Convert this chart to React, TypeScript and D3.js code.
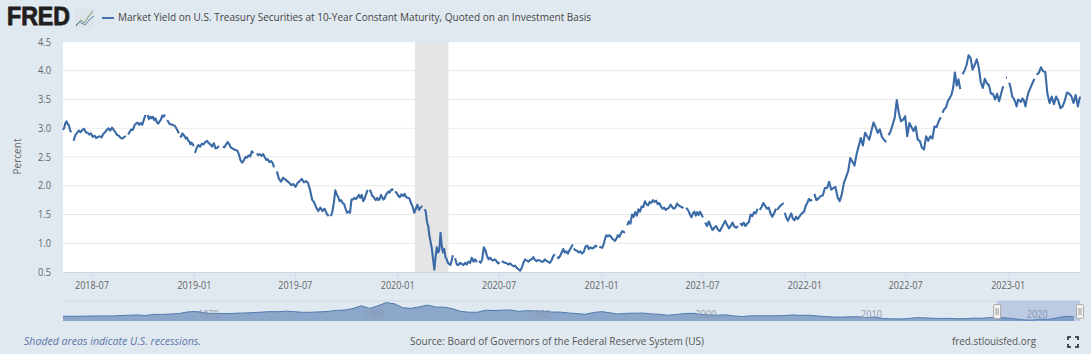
import React from "react";
import * as d3 from "d3";

const W = 1091, H = 354;
const titleText = "Market Yield on U.S. Treasury Securities at 10-Year Constant Maturity, Quoted on an Investment Basis";
const yTicks = [0.5, 1.0, 1.5, 2.0, 2.5, 3.0, 3.5, 4.0, 4.5];
const xTicks = ["2018-07", "2019-01", "2019-07", "2020-01", "2020-07", "2021-01", "2021-07", "2022-01", "2022-07", "2023-01"];
const navLabels = [1970, 1980, 1990, 2000, 2010, 2020];
const recession = ["2020-02-01", "2020-04-01"];
const domainDates = ["2018-05-10", "2023-05-10"];

const s01 = [2.97,3.01,3.09,3.12,3.07,3.05,2.96,2.93];
const s02 = [2.78,2.88,2.92,2.96,2.93,2.97,2.99,2.93,2.92,2.89,2.91,2.85,2.87,2.83,2.85,2.86,2.84,2.90,2.93,2.97,3.00,2.96,3.01,2.97,2.93,2.88,2.87,2.83,2.82,2.85,2.86];
const s03 = [2.89,2.94,2.98,2.97,3.05,3.08,3.10,3.06,3.09,3.06,3.15,3.23];
const s04 = [3.23,3.16,3.20,3.17,3.20,3.14,3.17,3.10,3.08,3.12,3.15,3.22,3.20,3.24];
const s05 = [3.14,3.11,3.07,3.07,3.06,3.05,3.04,3.00,2.96,2.91];
const s06 = [2.87,2.85,2.91,2.89,2.86,2.82,2.84,2.79,2.77,2.72,2.75,2.72,2.69];
const s07 = [2.57,2.66,2.71,2.68,2.73,2.72,2.76,2.78,2.74,2.72,2.68,2.74,2.65,2.66,2.69];
const s08 = [2.68,2.67,2.72,2.76,2.72,2.66,2.65,2.63,2.62,2.61,2.54,2.44,2.40,2.44,2.50,2.49,2.53,2.51,2.60,2.57];
const s09 = [2.56,2.53,2.55,2.52,2.55,2.50,2.45,2.46,2.41,2.43,2.40,2.32];
const s10 = [2.25,2.12,2.07,2.14,2.11,2.08,2.05,2.01,2.03,1.98,2.05,2.08,2.12,2.06,2.08,2.05,1.93,1.76,1.71,1.62,1.56,1.62,1.56,1.60,1.52,1.47];
const s11 = [1.47,1.55,1.70,1.92,1.85,1.80,1.73,1.75,1.70,1.68,1.60,1.53,1.55,1.53,1.76,1.76,1.79,1.77,1.80,1.84,1.79,1.84,1.73,1.78,1.86,1.93];
const s13 = [1.93,1.88,1.82,1.81,1.77,1.75,1.79,1.75,1.77,1.84,1.80,1.76,1.78,1.84,1.87,1.90,1.88,1.92,1.94,1.92];
const s14 = [1.90,1.88,1.83,1.80,1.85,1.82,1.86,1.80,1.79,1.78,1.70,1.64,1.53,1.60,1.67,1.58,1.62,1.65];
const s15 = [1.59,1.56,1.38,1.30,1.13,1.02,0.90,0.72,0.54,0.76,0.93,0.84,0.88,1.18,0.96,0.84,0.90,0.76,0.72,0.66,0.64,0.62,0.70,0.79];
const s16 = [0.74,0.63,0.62,0.66,0.64,0.62,0.66,0.63,0.68,0.66,0.75,0.68,0.72,0.67];
const s17 = [0.69,0.66,0.72,0.93,0.88,0.78,0.72,0.75,0.71,0.70,0.72,0.69,0.65,0.67];
const s18 = [0.69,0.67,0.66,0.65,0.63,0.65,0.62,0.60,0.61,0.57,0.55,0.52,0.57,0.66,0.72,0.70,0.68,0.71,0.72,0.76,0.71,0.69,0.71,0.70,0.68,0.68,0.72,0.69,0.68,0.66,0.70,0.77,0.81];
const s19 = [0.76,0.74,0.78,0.84,0.90,0.84,0.86,0.82,0.88,0.92,0.98];
const s20 = [0.91,0.88,0.87,0.84,0.86,0.82,0.85,0.94,0.96,0.90,0.93,0.91,0.92,0.96,0.94];
const s21 = [0.94,0.93,0.92,0.98,1.08,1.14,1.12,1.14,1.12,1.08,1.06,1.04,1.08,1.14,1.11,1.16,1.21,1.20,1.18];
const s22 = [1.31,1.38,1.34,1.50,1.46,1.54,1.48,1.59,1.55,1.64,1.63,1.73,1.68,1.66,1.72,1.70,1.75,1.72,1.74,1.68,1.70,1.64,1.60,1.62,1.58,1.60,1.62,1.67,1.63,1.60,1.62,1.69,1.66,1.64,1.63,1.61];
const s23 = [1.61,1.60,1.56,1.50,1.45,1.52,1.55,1.48,1.54,1.49,1.55,1.50,1.45];
const s24 = [1.36,1.30,1.38,1.30,1.23,1.27,1.30,1.24,1.21,1.27,1.33,1.39,1.32,1.26,1.30,1.36,1.29,1.27,1.30];
const s25 = [1.35,1.31,1.36,1.30,1.34,1.37,1.50,1.47,1.54,1.52,1.60];
const s26 = [1.58,1.63,1.70,1.65,1.60,1.62,1.52,1.46,1.52,1.60];
const s27 = [1.58,1.63,1.67,1.70];
const s28 = [1.53,1.44,1.39,1.46,1.52,1.43,1.40,1.46,1.42,1.46,1.50,1.53,1.55,1.65,1.70,1.77,1.74,1.76];
const s29 = [1.86,1.75,1.78,1.82,1.83,1.96,1.96,2.07,1.93,1.96,1.98,1.80,1.73,1.85,2.05,2.15,2.25,2.48,2.42,2.35,2.55,2.69,2.83,2.70,2.92,2.86,2.80,2.95,3.10,3.02,2.92,2.98,2.85,2.80,2.76];
const s30 = [2.88,2.94,3.06,3.18,3.49,3.26,3.12,3.15,3.21,2.86,3.09,3.02,2.95,3.03,2.80,2.78,2.66,2.63,2.86,2.78,2.86,2.82,3.03,3.02,3.12,3.19];
const s31 = [3.27,3.33,3.36,3.47,3.52,3.58,3.70,3.97,3.74,3.85,3.68];
const s32 = [3.94,4.00,4.10,4.27,4.22,4.02,4.10,4.20,4.06,3.80,3.70,3.86,3.78,3.75,3.60,3.60,3.50,3.60,3.47,3.60,3.73];
const s33 = [3.88,3.88];
const s34 = [3.79,3.69,3.55,3.52,3.46,3.38,3.50,3.48,3.46,3.52,3.48,3.38,3.52,3.62,3.68,3.74,3.80,3.86];
const s35 = [3.93,3.96,4.06,3.99,3.98,3.60,3.44,3.55,3.42,3.55,3.48,3.35,3.38,3.48,3.62,3.60,3.56,3.44,3.58,3.38,3.55];

const segments: [string, string, number[]][] = [
  ["2018-05-10", "2018-05-25", s01], ["2018-05-29", "2018-08-31", s02], ["2018-09-04", "2018-10-05", s03],
  ["2018-10-09", "2018-11-09", s04], ["2018-11-13", "2018-12-04", s05], ["2018-12-06", "2018-12-31", s06],
  ["2019-01-02", "2019-02-14", s07], ["2019-02-21", "2019-04-17", s08], ["2019-04-23", "2019-05-24", s09],
  ["2019-05-29", "2019-08-30", s10], ["2019-09-03", "2019-11-08", s11],
  ["2019-11-12", "2019-12-24", s13], ["2019-12-27", "2020-02-14", s14], ["2020-02-18", "2020-04-09", s15],
  ["2020-04-13", "2020-05-22", s16], ["2020-05-26", "2020-07-02", s17], ["2020-07-06", "2020-10-09", s18],
  ["2020-10-13", "2020-11-10", s19], ["2020-11-12", "2020-12-24", s20], ["2020-12-28", "2021-02-12", s21],
  ["2021-02-16", "2021-05-28", s22], ["2021-06-01", "2021-07-02", s23], ["2021-07-06", "2021-09-03", s24],
  ["2021-09-07", "2021-10-08", s25], ["2021-10-12", "2021-11-10", s26], ["2021-11-12", "2021-11-24", s27],
  ["2021-11-26", "2022-01-14", s28], ["2022-01-18", "2022-05-27", s29], ["2022-05-31", "2022-09-02", s30],
  ["2022-09-05", "2022-10-07", s31], ["2022-10-11", "2022-12-23", s32], ["2022-12-28", "2022-12-30", s33],
  ["2023-01-03", "2023-02-17", s34], ["2023-02-21", "2023-05-10", s35],
];

const navStartYear = 1962;
const navEndYear = 2023.36;
const navValues = [3.95,3.95,3.9,4.1,4.2,4.2,4.2,4.5,4.8,5.0,4.6,5.5,5.5,5.8,6.2,7.5,7.9,7.0,6.0,6.2,6.1,6.5,6.7,7.0,7.4,7.8,7.7,8.2,7.7,7.2,7.3,7.6,8.0,8.8,9.1,10.4,12.6,10.4,12.6,15.3,14.3,11.0,10.5,11.8,13.2,11.6,11.5,10.2,8.0,7.3,7.3,9.0,8.7,9.0,9.2,8.0,8.6,8.4,8.1,7.5,7.4,6.7,6.2,5.6,7.0,7.8,6.8,5.8,6.4,6.5,6.6,5.9,5.5,4.8,5.4,6.2,6.4,5.5,5.0,4.8,5.1,4.2,3.7,4.3,4.4,4.3,4.3,4.5,5.0,4.7,4.8,4.2,3.7,3.3,3.2,3.5,3.6,2.8,3.3,2.0,1.8,1.7,2.0,2.8,2.6,2.3,2.1,2.2,1.8,2.0,2.4,2.3,2.9,3.0,2.4,1.7,0.9,0.8,1.5,1.4,2.7,3.9,3.5];

const parse = d3.utcParse("%Y-%m-%d");
const d = (s: string) => parse(s) as Date;

const plot = { left: 63, right: 1080, top: 42, bottom: 272 };
const x = d3.scaleUtc().domain(domainDates.map(d)).range([plot.left, plot.right]);
const y = d3.scaleLinear().domain([0.5, 4.5]).range([plot.bottom, plot.top]);
const nx = d3.scaleLinear().domain([navStartYear, navEndYear]).range([plot.left, plot.right]);
const ny = d3.scaleLinear().domain([0, 15.8]).range([321, 302]);

const line = d3.line<[Date, number]>().x((p) => x(p[0])).y((p) => y(p[1]));

const seriesPaths = segments.map(([a, b, vals]) => {
  const t0 = +d(a), t1 = +d(b);
  const pts = vals.map((v, i) => [new Date(t0 + ((t1 - t0) * i) / Math.max(1, vals.length - 1)), v] as [Date, number]);
  return line(pts) as string;
});

const navPts = navValues.map((v, i) => [Math.min(navEndYear, navStartYear + i / 2), v] as [number, number]);
const navArea = d3.area<[number, number]>().x((p) => nx(p[0])).y0(ny(0)).y1((p) => ny(p[1]))(navPts) as string;
const navLine = d3.line<[number, number]>().x((p) => nx(p[0])).y((p) => ny(p[1]))(navPts) as string;

const FONT = "'Open Sans', sans-serif";
const selLeft = nx(2018.36);
const squeeze = { lengthAdjust: "spacingAndGlyphs" as const };

export default function App() {
  return (
    <svg width={W} height={H} viewBox={`0 0 ${W} ${H}`} style={{ position: "absolute", left: 0, top: 0, display: "block" }} fontFamily={FONT}>
      <rect width={W} height={H} fill="#e1e9f0" />
      <rect x={plot.left} y={plot.top} width={plot.right - plot.left} height={plot.bottom - plot.top} fill="#ffffff" />
      <rect x={x(d(recession[0]))} y={plot.top} width={x(d(recession[1])) - x(d(recession[0]))} height={plot.bottom - plot.top} fill="#e5e5e5" />
      {yTicks.slice(1, -1).map((t) => (
        <line key={t} x1={plot.left} x2={plot.right} y1={y(t)} y2={y(t)} stroke="#e9e9e9" strokeWidth={1} />
      ))}
      <line x1={plot.left} x2={plot.right} y1={plot.bottom + 0.5} y2={plot.bottom + 0.5} stroke="#c7d5e6" />
      {xTicks.map((t) => {
        const px = x(d(t + "-01"));
        return (
          <g key={t}>
            <line x1={px} x2={px} y1={plot.bottom} y2={plot.bottom + 9} stroke="#d0dcea" />
            <text x={px} y={289} textAnchor="middle" fontSize={10.5} fill="#666" textLength={34} {...squeeze}>{t}</text>
          </g>
        );
      })}
      {yTicks.map((t) => (
        <text key={t} x={51} y={y(t) + 3.5} textAnchor="end" fontSize={10.5} fill="#666" textLength={13} {...squeeze}>{t.toFixed(1)}</text>
      ))}
      <text transform={`translate(21,156.5) rotate(-90)`} textAnchor="middle" fontSize={10.5} fill="#666" textLength={36} {...squeeze}>Percent</text>
      {seriesPaths.map((p, i) => (
        <path key={i} d={p} fill="none" stroke="#3a6ba6" strokeWidth={2.1} strokeLinejoin="round" strokeLinecap="butt" />
      ))}

      {/* header */}
      <text x={7} y={25} fontFamily="'Liberation Sans', Arial, sans-serif" fontWeight={700} fontSize={25.5} fill="#231f20" stroke="#231f20" strokeWidth={0.9} textLength={63} {...squeeze}>FRED</text>
      <rect x={75} y={9} width={19} height={19} fill="#dde4e9" />
      <path d="M76 26 L81 20 L84 23 L89 16 L93 11" fill="none" stroke="#6f9a60" strokeWidth={1} />
      <path d="M76 25 L80 22 L85 25 L90 19 L94 16" fill="none" stroke="#5a85b5" strokeWidth={1} />
      <line x1={102} x2={114} y1={18} y2={18} stroke="#4572a7" strokeWidth={2} />
      <text x={118} y={21} fontSize={10.8} fill="#444" textLength={473} {...squeeze}>{titleText}</text>

      {/* navigator */}
      <line x1={plot.left} x2={plot.right} y1={301} y2={301} stroke="#cdd6e0" />
      <path d={navArea} fill="#8ca7ca" />
      <path d={navLine} fill="none" stroke="#4f7ab0" strokeWidth={1} />
      {navLabels.map((yr) => (
        <text key={yr} x={nx(yr) + 13} y={321 - 3} textAnchor="middle" fontSize={10.5} fill="#8e9bb0" textLength={21} {...squeeze}>{yr}</text>
      ))}
      <rect x={selLeft} y={301} width={plot.right - selLeft} height={20} fill="#6685c2" fillOpacity={0.3} />
      {[selLeft, plot.right].map((hx, i) => (
        <g key={i}>
          <rect x={hx - 3.5} y={304.5} width={7} height={14} rx={1} fill="#f2f2f2" stroke="#a9a9a9" />
          <line x1={hx - 1} x2={hx - 1} y1={308} y2={315} stroke="#999" />
          <line x1={hx + 1} x2={hx + 1} y1={308} y2={315} stroke="#999" />
        </g>
      ))}

      {/* footer */}
      <text x={24} y={345} fontSize={11} fontStyle="italic" fill="#5a75a8" textLength={177} {...squeeze}>Shaded areas indicate U.S. recessions.</text>
      <text x={410} y={345} fontSize={11} fill="#555" textLength={294} {...squeeze}>Source: Board of Governors of the Federal Reserve System (US)</text>
      <text x={952} y={345} fontSize={11} fill="#555" textLength={84} {...squeeze}>fred.stlouisfed.org</text>
      <path d="M1068 340 v-3 h3 M1075 337 h3 v3 M1078 344 v3 h-3 M1071 347 h-3 v-3" fill="none" stroke="#222" strokeWidth={1.6} />
    </svg>
  );
}
